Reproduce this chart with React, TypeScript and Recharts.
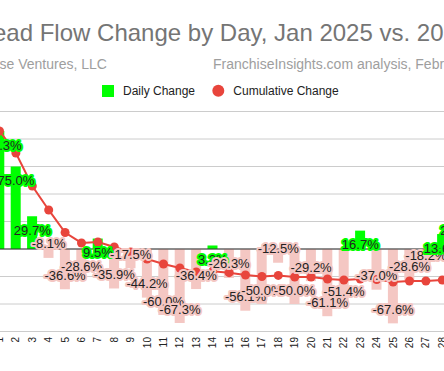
import React from 'react';
import { ComposedChart, Bar, Line, XAxis, YAxis, CartesianGrid, Cell, LabelList, ReferenceLine } from 'recharts';

const days = ['1','2','3','4','5','6','7','8','9','10','11','12','13','14','15','16','17','18','19','20','21','22','23','24','25','26','27','28','29'];
const dailyChange = [107.3, 75.0, 29.7, -8.1, -36.6, -28.6, 9.5, -35.9, -17.5, -44.2, -60.0, -67.3, -36.4, 3.2, -26.3, -56.1, -50.0, -12.5, -50.0, -29.2, -61.1, -51.4, 16.7, -37.0, -67.6, -28.6, -18.2, 13.6, 29.4];
const cumulativeChange = [107.3, 87.3, 57.3, 35.5, 15.0, 5.5, 6.4, 1.8, -2.7, -9.1, -13.6, -17.3, -20.9, -20.2, -21.5, -23.6, -25.0, -24.0, -25.5, -25.5, -27.3, -28.2, -27.3, -27.8, -30.0, -29.1, -29.1, -28.2, -27.5];
const yTicks = [-50, -25, 0, 25, 50, 75, 100];
const seriesNames = ['Daily Change', 'Cumulative Change'];
const titleVisible = 'ead Flow Change by Day, Jan 2025 vs. 20';
const subtitleLeft = 'se Ventures, LLC';
const subtitleRight = 'FranchiseInsights.com analysis, Febr';

const POS = '#00ff00';
const NEG = '#f4c7c3';
const RED = '#e8453c';
const FONT = '"Liberation Sans", Arial, sans-serif';

const data = days.map((d, i) => ({ day: d, daily: dailyChange[i], cumulative: cumulativeChange[i] }));

const XTick = (props: any) => {
  const { x, y, payload } = props;
  const ay = y + 5.5;
  return (
    <text x={x} y={ay} transform={`rotate(-90 ${x} ${ay})`} textAnchor="end" dy="0.35em" fontSize={10} fill="#222" fontFamily={FONT}>
      {payload.value}
    </text>
  );
};

const DailyLabel = (props: any) => {
  const { x, y, value } = props;
  if (value == null) return null;
  const pos = value >= 0;
  const ly = pos ? y + 14 : y - 14;
  return (
    <text x={x} y={ly} dy="0.35em" textAnchor="middle" fontSize={13} fontFamily={FONT} fill="#222"
      stroke={pos ? POS : NEG} strokeWidth={4} strokeLinejoin="round" style={{ paintOrder: 'stroke' } as any}>
      {value.toFixed(1) + '%'}
    </text>
  );
};

export default function App() {
  return (
    <div style={{ position: 'fixed', left: 0, top: 0, width: 444, height: 371, overflow: 'hidden', background: '#fff' }}>
      <div style={{ position: 'absolute', left: -100, top: 0 }}>
        <ComposedChart width={590} height={371} data={data} margin={{ top: 111.5, right: 23.1, bottom: 9.5, left: 31.3 }}>
          <CartesianGrid vertical={false} stroke="#cccccc" />
          <XAxis dataKey="day" height={30} tick={<XTick />} tickLine={false} axisLine={false} tickSize={0} tickMargin={0} interval={0} />
          <YAxis width={60} domain={[-75, 125]} ticks={yTicks} axisLine={false} tickLine={false} />
          <Bar dataKey="daily" name={seriesNames[0]} barSize={10} isAnimationActive={false}>
            {data.map((d, i) => (
              <Cell key={i} fill={d.daily >= 0 ? POS : NEG} />
            ))}
          </Bar>
          <ReferenceLine y={0} stroke="#333" strokeWidth={1} />
          <Line dataKey="cumulative" name={seriesNames[1]} stroke={RED} strokeWidth={2} dot={{ r: 4.5, fill: RED, stroke: RED, strokeWidth: 0 }} activeDot={false} isAnimationActive={false} />
          <Line dataKey="daily" stroke="none" dot={false} activeDot={false} legendType="none" isAnimationActive={false}>
            <LabelList dataKey="daily" content={<DailyLabel />} />
          </Line>
        </ComposedChart>
      </div>
      <svg width={444} height={110} style={{ position: 'absolute', left: 0, top: 0 }}>
        <text x={-7} y={41} fontSize={24} fill="#757575" fontFamily={FONT}>{titleVisible}</text>
        <text x={-0.5} y={69} fontSize={14} fill="#9e9e9e" fontFamily={FONT}>{subtitleLeft}</text>
        <text x={213} y={69} fontSize={14} fill="#9e9e9e" fontFamily={FONT}>{subtitleRight}</text>
        <rect x={102} y={85} width={12} height={12} fill={POS} />
        <text x={123} y={95} fontSize={12} fill="#222" fontFamily={FONT}>{seriesNames[0]}</text>
        <circle cx={218.3} cy={90.7} r={6} fill={RED} />
        <text x={233.3} y={95} fontSize={12} fill="#222" fontFamily={FONT}>{seriesNames[1]}</text>
      </svg>
    </div>
  );
}
